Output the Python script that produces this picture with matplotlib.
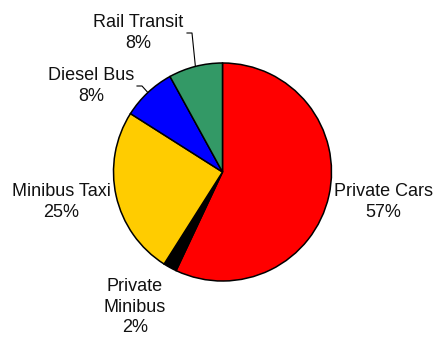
import numpy as np
import matplotlib
matplotlib.use("Agg")
import matplotlib.pyplot as plt

categories = ["Private Cars", "Private\nMinibus", "Minibus Taxi", "Diesel Bus", "Rail Transit"]
shares = [57, 2, 25, 8, 8]
colors = ["#FF0000", "#000000", "#FFCC00", "#0000FF", "#339966"]

# label text centres (pixel coords, y down) and leader-line flags
label_pos = [(383, 202), (135, 307), (61, 202), (91, 86), (138, 33)]
leaders = [None, None, None, (142, 86, 137), (192, 33, 187)]

W, H = 433, 341
fig = plt.figure(figsize=(W / 100, H / 100), dpi=100)
ax = fig.add_axes([0, 0, 1, 1])
cx, cy, r = 222.5, H - 172, 109

wedges, _ = ax.pie(shares, colors=colors, startangle=90, counterclock=False,
                   center=(cx, cy), radius=r,
                   wedgeprops=dict(edgecolor="black", linewidth=1.1))
ax.set_xlim(0, W)
ax.set_ylim(0, H)
ax.set_aspect("equal")
ax.axis("off")

for w, cat, val, (lx, ly), ld in zip(wedges, categories, shares, label_pos, leaders):
    ax.text(lx, H - ly, f"{cat}\n{val}%", ha="center", va="center",
            fontsize=13, family="Liberation Sans", linespacing=1.28, color="#111111")
    if ld is not None:
        mid = np.deg2rad((w.theta1 + w.theta2) / 2)
        sx, sy = cx + r * np.cos(mid), cy + r * np.sin(mid)
        ex, ey, tx = ld
        ax.plot([sx, ex, tx], [sy, H - ey, H - ey], color="black", lw=0.8)

fig.savefig("out.png", dpi=100)
